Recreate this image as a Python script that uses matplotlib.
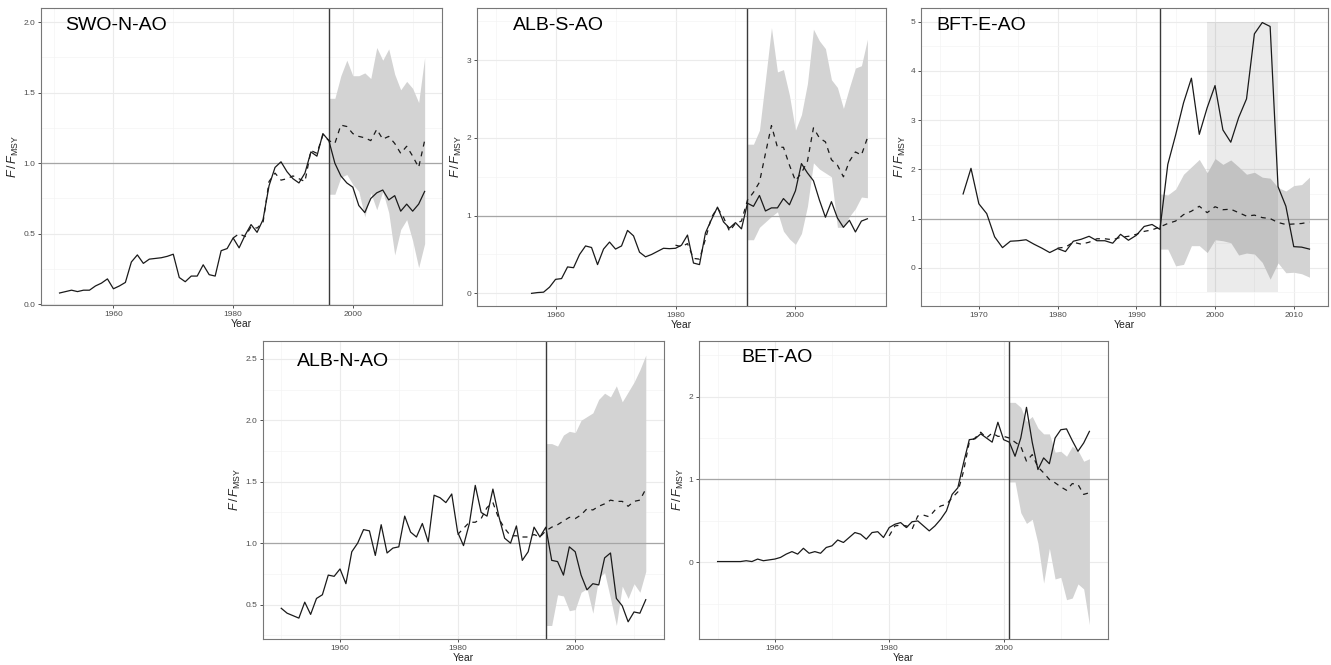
import numpy as np
import matplotlib
matplotlib.use("Agg")
import matplotlib.pyplot as plt
from matplotlib.ticker import MultipleLocator, FormatStrFormatter

plt.rcParams['font.family'] = ['Liberation Sans', 'DejaVu Sans']
plt.rcParams['mathtext.fontset'] = 'custom'
plt.rcParams['mathtext.rm'] = 'Liberation Sans'
plt.rcParams['mathtext.it'] = 'Liberation Sans:italic'

# ---- SWO-N-AO ----
swo_years = np.arange(1951, 2013)
swo_f = [0.08, 0.09, 0.10, 0.09, 0.10, 0.10, 0.13, 0.15, 0.18, 0.11,
         0.13, 0.155, 0.30, 0.35, 0.29, 0.32, 0.325, 0.33, 0.34, 0.355,
         0.19, 0.16, 0.20, 0.20, 0.28, 0.21, 0.20, 0.38, 0.395, 0.47,
         0.40, 0.49, 0.565, 0.51, 0.60, 0.84, 0.97, 1.01, 0.94, 0.89,
         0.86, 0.93, 1.08, 1.05, 1.21, 1.16, 1.00, 0.91, 0.86, 0.83,
         0.70, 0.65, 0.75, 0.79, 0.81, 0.74, 0.77, 0.66, 0.71, 0.66, 0.71, 0.80]
swo_est_years = np.arange(1980, 2013)
swo_est = [0.47, 0.50, 0.48, 0.55, 0.54, 0.58, 0.87, 0.93, 0.88, 0.89,
           0.91, 0.89, 0.87, 1.09, 1.07, 1.20, 1.16, 1.14, 1.27, 1.26,
           1.21, 1.19, 1.18, 1.16, 1.24, 1.17, 1.19, 1.14, 1.07, 1.12, 1.05, 0.97, 1.16]
swo_band_years = np.arange(1996, 2013)
swo_hi = [1.46, 1.46, 1.62, 1.73, 1.62, 1.62, 1.64, 1.60, 1.82, 1.73, 1.81, 1.63, 1.52, 1.58, 1.53, 1.43, 1.75]
swo_lo = [0.78, 0.78, 0.90, 0.92, 0.85, 0.80, 0.62, 0.79, 0.67, 0.80, 0.65, 0.35, 0.53, 0.60, 0.45, 0.26, 0.43]

# ---- ALB-S-AO ----
albs_years = np.arange(1956, 2013)
albs_f = [0.00, 0.01, 0.015, 0.08, 0.18, 0.19, 0.34, 0.33, 0.50, 0.61,
          0.59, 0.37, 0.57, 0.66, 0.57, 0.61, 0.81, 0.74, 0.53, 0.47,
          0.50, 0.54, 0.58, 0.575, 0.58, 0.62, 0.75, 0.39, 0.37, 0.78,
          0.95, 1.11, 0.92, 0.84, 0.91, 0.83, 1.16, 1.12, 1.26, 1.06,
          1.10, 1.10, 1.22, 1.14, 1.32, 1.67, 1.55, 1.45, 1.20, 0.98,
          1.18, 0.97, 0.85, 0.94, 0.79, 0.93, 0.96]
albs_est_years = np.arange(1980, 2013)
albs_est = [0.62, 0.60, 0.64, 0.45, 0.44, 0.70, 0.98, 1.10, 0.98, 0.80,
            0.90, 0.93, 1.20, 1.30, 1.43, 1.80, 2.16, 1.88, 1.88, 1.65,
            1.45, 1.55, 1.70, 2.13, 2.00, 1.95, 1.72, 1.65, 1.50, 1.70, 1.82, 1.78, 2.00]
albs_band_years = np.arange(1992, 2013)
albs_hi = [1.92, 1.92, 2.10, 2.75, 3.42, 2.85, 2.88, 2.55, 2.10, 2.30, 2.70,
           3.40, 3.25, 3.15, 2.75, 2.65, 2.38, 2.65, 2.90, 2.93, 3.27]
albs_lo = [0.69, 0.69, 0.85, 0.92, 0.99, 1.05, 0.80, 0.70, 0.63, 0.77, 1.12,
           1.68, 1.60, 1.55, 1.50, 0.85, 0.85, 0.99, 1.09, 1.24, 1.23]

# ---- BFT-E-AO ----
bft_years = np.arange(1968, 2013)
bft_f = [1.50, 2.02, 1.30, 1.10, 0.63, 0.41, 0.54, 0.55, 0.57, 0.48,
         0.40, 0.31, 0.39, 0.33, 0.54, 0.58, 0.64, 0.55, 0.55, 0.50,
         0.68, 0.56, 0.66, 0.84, 0.88, 0.78, 2.10, 2.70, 3.35, 3.85,
         2.71, 3.25, 3.70, 2.80, 2.55, 3.05, 3.43, 4.75, 4.98, 4.90,
         1.65, 1.25, 0.43, 0.42, 0.38]
bft_est_years = np.arange(1980, 2013)
bft_est = [0.40, 0.42, 0.52, 0.48, 0.52, 0.59, 0.59, 0.57, 0.62, 0.64,
           0.68, 0.74, 0.77, 0.83, 0.90, 0.95, 1.08, 1.15, 1.25, 1.12,
           1.24, 1.18, 1.19, 1.12, 1.05, 1.07, 1.02, 1.00, 0.92, 0.88, 0.89, 0.90, 0.93]
bft_band_years = np.arange(1993, 2013)
bft_hi = [1.50, 1.48, 1.60, 1.90, 2.05, 2.20, 1.93, 2.22, 2.10, 2.19,
          2.05, 1.90, 1.94, 1.84, 1.82, 1.63, 1.56, 1.67, 1.69, 1.84]
bft_lo = [0.38, 0.38, 0.04, 0.07, 0.45, 0.45, 0.31, 0.57, 0.55, 0.51,
          0.26, 0.30, 0.28, 0.11, -0.23, 0.10, -0.10, -0.09, -0.12, -0.19]
bft_box = [1999, 2008, -0.5, 5.0]   # shaded period: x0, x1, y0, y1

# ---- ALB-N-AO ----
albn_years = np.arange(1950, 2013)
albn_f = [0.47, 0.43, 0.41, 0.39, 0.52, 0.42, 0.55, 0.58, 0.74, 0.73,
          0.79, 0.67, 0.93, 1.00, 1.11, 1.10, 0.90, 1.15, 0.92, 0.96,
          0.97, 1.22, 1.09, 1.05, 1.16, 1.01, 1.39, 1.37, 1.33, 1.40,
          1.09, 0.98, 1.16, 1.47, 1.25, 1.22, 1.44, 1.22, 1.04, 1.00,
          1.14, 0.86, 0.93, 1.13, 1.05, 1.13, 0.86, 0.85, 0.74, 0.97,
          0.93, 0.74, 0.62, 0.67, 0.66, 0.88, 0.92, 0.55, 0.49, 0.36, 0.44, 0.43, 0.54]
albn_est_years = np.arange(1980, 2013)
albn_est = [1.07, 1.12, 1.17, 1.17, 1.20, 1.29, 1.33, 1.20, 1.12, 1.06,
            1.06, 1.05, 1.05, 1.07, 1.05, 1.10, 1.13, 1.15, 1.18, 1.21,
            1.20, 1.23, 1.28, 1.27, 1.30, 1.32, 1.35, 1.34, 1.34, 1.30, 1.34, 1.35, 1.44]
albn_band_years = np.arange(1995, 2013)
albn_hi = [1.81, 1.81, 1.79, 1.88, 1.91, 1.90, 2.00, 2.03, 2.06, 2.17, 2.22, 2.19, 2.28, 2.15, 2.23, 2.31, 2.41, 2.53]
albn_lo = [0.33, 0.33, 0.58, 0.57, 0.45, 0.46, 0.60, 0.63, 0.43, 0.72, 0.76, 0.55, 0.33, 0.65, 0.55, 0.67, 0.60, 0.77]

# ---- BET-AO ----
bet_years = np.arange(1950, 2016)
bet_f = [0.01, 0.01, 0.01, 0.01, 0.01, 0.02, 0.01, 0.04, 0.02, 0.03,
         0.04, 0.06, 0.10, 0.13, 0.10, 0.17, 0.11, 0.13, 0.11, 0.18,
         0.20, 0.27, 0.24, 0.30, 0.36, 0.34, 0.28, 0.36, 0.37, 0.30,
         0.42, 0.46, 0.48, 0.42, 0.49, 0.50, 0.44, 0.38, 0.44, 0.52,
         0.62, 0.82, 0.90, 1.20, 1.48, 1.49, 1.55, 1.50, 1.45, 1.69,
         1.48, 1.45, 1.28, 1.50, 1.87, 1.45, 1.12, 1.26, 1.19, 1.50,
         1.60, 1.61, 1.47, 1.34, 1.44, 1.58]
bet_est_years = np.arange(1980, 2016)
bet_est = [0.32, 0.44, 0.45, 0.44, 0.40, 0.56, 0.57, 0.55, 0.63, 0.68,
           0.70, 0.78, 0.85, 1.10, 1.45, 1.50, 1.57, 1.50, 1.56, 1.52,
           1.52, 1.50, 1.45, 1.40, 1.22, 1.30, 1.15, 1.08, 1.00, 0.96,
           0.91, 0.87, 0.95, 0.94, 0.82, 0.84]
bet_band_years = np.arange(2001, 2016)
bet_hi = [1.93, 1.93, 1.87, 1.70, 1.76, 1.62, 1.55, 1.55, 1.33, 1.34, 1.28, 1.40, 1.35, 1.22, 1.25]
bet_lo = [0.97, 0.97, 0.60, 0.47, 0.52, 0.23, -0.25, 0.17, -0.20, -0.18, -0.45, -0.43, -0.26, -0.32, -0.75]

W, H = 1331, 665
fig = plt.figure(figsize=(W / 100, H / 100), dpi=100)


def panel(box, name, yrs, f, eyrs, est, byrs, lo, hi, vyear, xlim, ylim,
          xmaj, ymaj, yfmt, title_x, title_y, shade=None):
    # box is left, top, right, bottom in pixels
    l, t, r, b = box
    ax = fig.add_axes([l / W, 1 - b / H, (r - l) / W, (b - t) / H])
    ax.set_xlim(*xlim)
    ax.set_ylim(*ylim)
    ax.xaxis.set_major_locator(MultipleLocator(xmaj))
    ax.xaxis.set_minor_locator(MultipleLocator(xmaj / 2))
    ax.yaxis.set_major_locator(MultipleLocator(ymaj))
    ax.yaxis.set_minor_locator(MultipleLocator(ymaj / 2))
    ax.yaxis.set_major_formatter(FormatStrFormatter(yfmt))
    ax.grid(True, which='major', color='#ebebeb', lw=0.8, zorder=0)
    ax.grid(True, which='minor', color='#f4f4f4', lw=0.5, zorder=0)
    ax.set_axisbelow(True)
    ax.tick_params(which='major', length=2.5, width=0.6, color='#333333',
                   labelsize=6, labelcolor='#4d4d4d', pad=1.5)
    ax.tick_params(which='minor', length=0)
    for s in ax.spines.values():
        s.set_color('#777777')
        s.set_linewidth(0.8)

    ax.fill_between(byrs, lo, hi, color='#d3d3d3', lw=0, zorder=1)
    if shade is not None:
        ax.fill_between([shade[0], shade[1]], shade[2], shade[3],
                        color='black', alpha=0.08, lw=0, zorder=1.5)
    ax.axhline(1, color='#a6a6a6', lw=0.9, zorder=2)
    ax.axvline(vyear, color='#3a3a3a', lw=1.0, zorder=2)
    ax.plot(yrs, f, color='#1a1a1a', lw=0.9, zorder=3)
    ax.plot(eyrs, est, color='#1a1a1a', lw=0.9, ls=(0, (4, 4)), zorder=3)

    ax.text(title_x, title_y, name, transform=ax.transAxes, fontsize=14,
            ha='left', va='center', color='black')
    ax.set_xlabel('Year', fontsize=7.5, color='#222222', labelpad=1)
    ax.set_ylabel(r'$F\,/\,F_{\mathrm{MSY}}$', fontsize=9, color='#222222', labelpad=2)
    return ax


panel((41, 8, 442, 305), 'SWO-N-AO', swo_years, swo_f, swo_est_years, swo_est,
      swo_band_years, swo_lo, swo_hi, 1996, (1947.9, 2014.9), (-0.005, 2.1),
      20, 0.5, '%.1f', 0.06, 0.94)
panel((477, 8, 886, 306), 'ALB-S-AO', albs_years, albs_f, albs_est_years, albs_est,
      albs_band_years, albs_lo, albs_hi, 1992, (1946.9, 2015.1), (-0.163, 3.673),
      20, 1, '%d', 0.087, 0.94)
panel((921, 8, 1328, 306), 'BFT-E-AO', bft_years, bft_f, bft_est_years, bft_est,
      bft_band_years, bft_lo, bft_hi, 1993, (1962.65, 2014.35), (-0.775, 5.275),
      10, 1, '%d', 0.039, 0.94, shade=bft_box)
panel((263, 341, 664, 639), 'ALB-N-AO', albn_years, albn_f, albn_est_years, albn_est,
      albn_band_years, albn_lo, albn_hi, 1995, (1946.9, 2015.1), (0.22, 2.645),
      20, 0.5, '%.1f', 0.084, 0.93)
panel((699, 341, 1108, 639), 'BET-AO', bet_years, bet_f, bet_est_years, bet_est,
      bet_band_years, bet_lo, bet_hi, 2001, (1946.75, 2018.25), (-0.924, 2.67),
      20, 1, '%d', 0.103, 0.945)

fig.savefig('out.png', dpi=100)
